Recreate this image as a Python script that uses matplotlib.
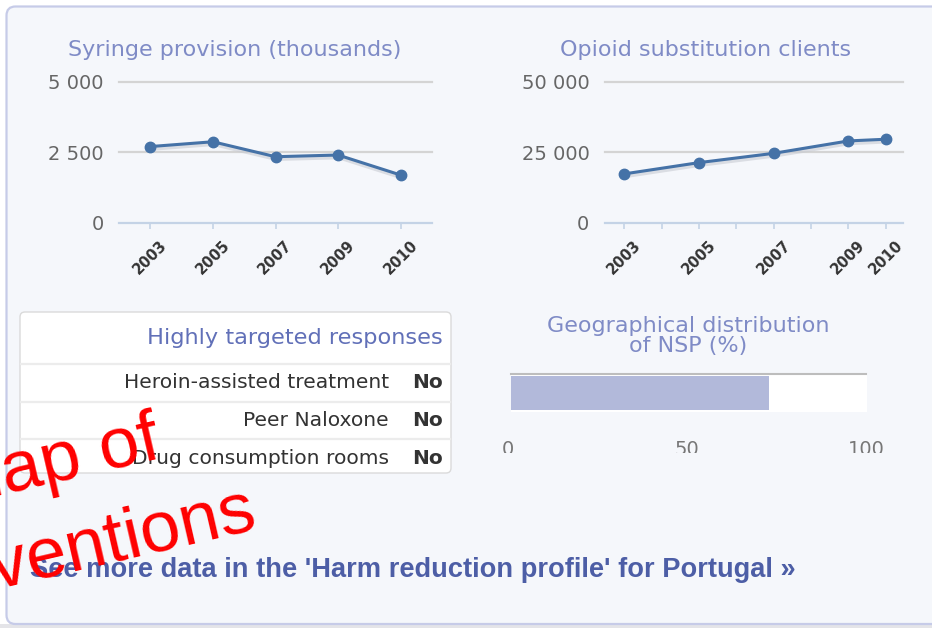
import matplotlib
matplotlib.use("Agg")
import matplotlib.pyplot as plt
import matplotlib.transforms as mtransforms
from matplotlib.patches import FancyBboxPatch, Rectangle
from matplotlib.ticker import FixedLocator

syr_years = ['2003', '2005', '2007', '2009', '2010']
syringes = [2700, 2870, 2340, 2400, 1690]

ost_years = [2003, 2005, 2007, 2009, 2010]
ost_clients = [17300, 21300, 24600, 29000, 29600]

responses = ['Heroin-assisted treatment', 'Peer Naloxone', 'Drug consumption rooms']
answers = ['No', 'No', 'No']

nsp_coverage = 73
nsp_ticks = [0, 50, 100]

W, H = 932, 628
BLUE = '#4572a7'
TITLE = '#7f8bc6'
PANEL = '#f5f7fb'

plt.rcParams['font.family'] = 'DejaVu Sans'

fig = plt.figure(figsize=(W / 100, H / 100), dpi=100, facecolor='white')


def px_axes(l, t, r, b, z=1):
    return fig.add_axes([l / W, 1 - b / H, (r - l) / W, (b - t) / H], zorder=z)


# background in pixel coordinates (y down)
bg = px_axes(0, 0, W, H, z=0)
bg.set_xlim(0, W)
bg.set_ylim(H, 0)
bg.axis('off')
bg.add_patch(Rectangle((0, 624), W, 10, facecolor='#e4e4e8', edgecolor='none'))
bg.add_patch(FancyBboxPatch((6.5, 6.5), 950, 617.5,
                            boxstyle='round,pad=0,rounding_size=9',
                            facecolor=PANEL, edgecolor='#c6cbe8', lw=1.6))


def line_chart(ax, x, y, ymax, ylabels, title_x, title):
    ax.set_facecolor('none')
    for s in ['top', 'right', 'left']:
        ax.spines[s].set_visible(False)
    ax.spines['bottom'].set_color('#c4d3e6')
    ax.spines['bottom'].set_linewidth(1.6)
    for g in [ymax / 2, ymax]:
        ax.axhline(g, color='#d4d4d4', lw=1.6, clip_on=False, zorder=1)
    shadow = ax.transData + mtransforms.ScaledTranslation(0.5 / 72, -1.5 / 72, fig.dpi_scale_trans)
    ax.plot(x, y, color='#c9ccd3', lw=3.2, alpha=0.6, clip_on=False, zorder=2,
            transform=shadow)
    ax.plot(x, y, color=BLUE, lw=2.2, marker='o', ms=7.5, clip_on=False, zorder=3)
    ax.set_ylim(0, ymax)
    ax.set_yticks([0, ymax / 2, ymax])
    ax.set_yticklabels(ylabels, fontsize=14, color='#666666')
    ax.tick_params(axis='y', length=0, pad=11)
    ax.tick_params(axis='x', which='both', length=4, width=1.2, color='#c4d3e6',
                   pad=7, labelsize=10.5, labelcolor='#333333')
    for lab in ax.get_xticklabels():
        lab.set_rotation(45)
        lab.set_ha('center')
        lab.set_va('top')
        lab.set_fontweight('bold')
    bg.text(title_x, 50, title, ha='center', va='center', fontsize=16, color=TITLE)


ax1 = px_axes(119, 81.7, 432, 222.7)
ax1.set_xlim(-0.5, 4.5)
ax1.set_xticks(range(len(syr_years)))
ax1.set_xticklabels(syr_years)
line_chart(ax1, range(len(syr_years)), syringes, 5000, ['0', '2 500', '5 000'],
           235, 'Syringe provision (thousands)')

ax2 = px_axes(604.7, 81.7, 902.7, 222.7)
ax2.set_xlim(2002.48, 2010.45)
ax2.set_xticks(ost_years)
ax2.set_xticklabels([str(v) for v in ost_years])
ax2.xaxis.set_minor_locator(FixedLocator([2004, 2006, 2008]))
line_chart(ax2, ost_years, ost_clients, 50000, ['0', '25 000', '50 000'],
           706, 'Opioid substitution clients')

# table of highly targeted responses
bg.add_patch(FancyBboxPatch((20, 312), 431, 161, boxstyle='round,pad=0,rounding_size=5',
                            facecolor='white', edgecolor='#dadada', lw=1, zorder=2))
for yy in [364, 402, 439]:
    bg.plot([21, 450], [yy, yy], color='#ececec', lw=1.6, zorder=3)
bg.text(443, 338, 'Highly targeted responses', ha='right', va='center',
        fontsize=16.2, color='#6170b8', zorder=4)
for i, (r, a) in enumerate(zip(responses, answers)):
    yy = 383 + i * 37.5
    bg.text(389, yy, r, ha='right', va='center', fontsize=14.6, color='#333333', zorder=4)
    bg.text(443, yy, a, ha='right', va='center', fontsize=14.5, color='#333333',
            fontweight='bold', zorder=4)

# geographical distribution of NSP
bg.text(688, 336, 'Geographical distribution\nof NSP (%)', ha='center', va='center',
        fontsize=16, color=TITLE, linespacing=0.95)
ax3 = px_axes(508, 372, 866, 414)
ax3.set_xlim(0, 100)
ax3.set_ylim(0, 1)
ax3.axis('off')
ax3.add_patch(Rectangle((0.8, 0.05), 99.5, 0.9, facecolor='white', edgecolor='none', clip_on=False))
ax3.axhline(0.96, xmin=0.008, xmax=1.0, color='#bdbdbd', lw=1.5, clip_on=False)
ax3.barh([0.5], [nsp_coverage - 0.8], left=0.8, height=0.8, color='#b2b9da')
# tick labels are cut off at their bottom in the widget
tick_tf = mtransforms.blended_transform_factory(ax3.transData, bg.transData)
cut = mtransforms.TransformedBbox(
    mtransforms.Bbox([[480 / W, (H - 453) / H], [920 / W, (H - 430) / H]]), fig.transFigure)
for t in nsp_ticks:
    tx = bg.text(t, 449.5, str(t), ha='center', va='center', fontsize=14,
                 color='#777777', transform=tick_tf)
    tx.set_clip_on(True)
    tx.set_clip_box(cut)

# link
bg.text(30, 570, "See more data in the 'Harm reduction profile' for Portugal \u00bb",
        ha='left', va='center', fontsize=19.6, fontweight='bold',
        family='Liberation Sans', color='#4d5ea6', zorder=5)

# red overlay text
bg.text(163, 458, 'map of', ha='right', va='baseline', rotation=13, rotation_mode='anchor',
        fontsize=52, family='Liberation Sans', color='#ff0000', zorder=6)
bg.text(259, 527, 'interventions', ha='right', va='baseline', rotation=13,
        rotation_mode='anchor', fontsize=52, family='Liberation Sans',
        color='#ff0000', zorder=6)

fig.savefig('out.png', dpi=100, facecolor='white')
